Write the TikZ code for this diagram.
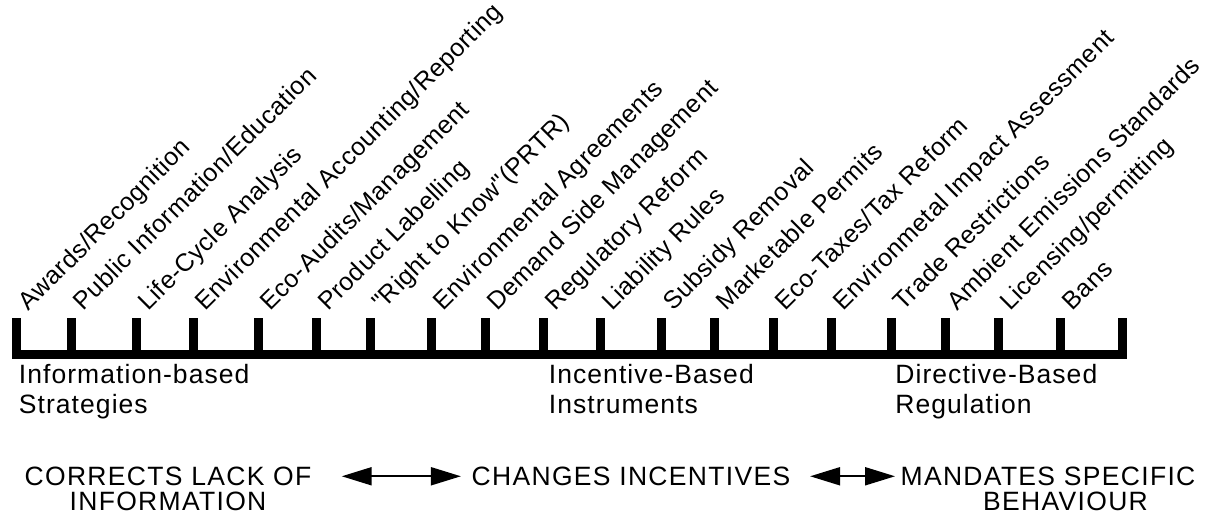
\documentclass[tikz,border=0pt]{standalone}
\usepackage{fontspec}
\setmainfont{Liberation Sans}
\newfontfamily\instrfont[LetterSpace=2]{Liberation Sans}
\newfontfamily\groupfont[LetterSpace=4]{Liberation Sans}
\newfontfamily\effectfont[LetterSpace=5]{Liberation Sans}
\usetikzlibrary{arrows.meta}

\begin{document}
\begin{tikzpicture}[x=0.5pt,y=-0.5pt,
  every node/.style={inner sep=0pt,text=black},
  instr/.style={rotate=45,anchor=base west,font=\instrfont\fontsize{12.5}{14}\selectfont},
  group/.style={anchor=north west,align=left,font=\groupfont\fontsize{13.25}{15}\selectfont},
  effect/.style={anchor=north,align=center,font=\effectfont\fontsize{13.25}{12.5}\selectfont},
  both/.style={{Triangle[length=15pt,width=9pt]}-{Triangle[length=15pt,width=9pt]},line width=1pt}]

\useasboundingbox (0,0) rectangle (1220,517);

% the scale
\fill (12.5,350) rectangle (1127,359);
\foreach \x in {16.5,71.5,136,193,258,316,370,431,485,543,600,661,714,773,831,891,945,998,1060.5,1122.5}
  \fill (\x-4.5,318) rectangle (\x+4.5,359);

% instruments
\foreach \x/\txt [count=\i] in {16.5/{Awards/Recognition},71.5/{Public Information/Education},
    136/{Life-Cycle Analysis},193/{Environmental Accounting/Reporting},258/{Eco-Audits/Management},
    316/{Product Labelling},370/{"Right to Know"(PRTR)},431/{Environmental Agreements},
    485/{Demand Side Management},543/{Regulatory Reform},600/{Liability Rules},
    661/{Subsidy Removal},714/{Marketable Permits},773/{Eco-Taxes/Tax Reform},
    831/{Environmetal Impact Assessment},891/{Trade Restrictions},945/{Ambient Emissions Standards},
    998/{Licensing/permitting},1060.5/{Bans}}
  \node[instr] (instr\i) at (\x+12,312) {\txt};

% groups
\node[group] (info) at (18.5,364) {Information-based\\Strategies};
\node[group] (incent) at (548.5,364) {Incentive-Based\\Instruments};
\node[group] (direct) at (895,364) {Directive-Based\\Regulation};

% effects
\node[effect] (corr) at (168,466.5) {CORRECTS LACK OF\\INFORMATION};
\node[effect] (chg) at (631,466.5) {CHANGES INCENTIVES};
\node[effect] (mand) at (1048,466.5) {MANDATES SPECIFIC\\\hspace*{17.5pt}BEHAVIOUR};

\draw[both,shorten <=15pt,shorten >=5.2pt] (corr.east |- chg.west) -- (chg.west);
\draw[both,shorten <=9.7pt,shorten >=2.6pt] (chg.east) -- (mand.west |- chg.east);
\end{tikzpicture}
\end{document}
